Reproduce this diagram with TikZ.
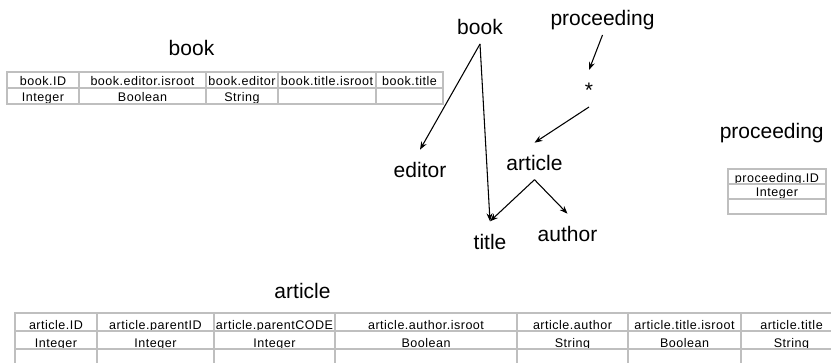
\documentclass[tikz,border=0pt]{standalone}
\usepackage{fontspec}
\setmainfont{Liberation Sans}
\newfontfamily\cellfont[LetterSpace=4]{Liberation Sans}
\usetikzlibrary{arrows.meta}
\tikzstyle{treelabel} = [inner sep=0pt, outer sep=3.75pt, text height=17.25pt, text depth=3pt, anchor=base, font=\fontsize{15.75}{18}\selectfont]
\tikzstyle{tablename} = [inner sep=0pt, anchor=base, font=\fontsize{15.75}{18}\selectfont]
\tikzstyle{cell} = [inner sep=0pt, anchor=base, font=\cellfont\fontsize{9.4}{10}\selectfont]
\tikzstyle{grid} = [draw=black!25, line width=1.2pt]
\tikzstyle{arrow} = [line width=0.8pt, -{Stealth[length=6pt, width=4.5pt]}]

\begin{document}
\begin{tikzpicture}[x=0.75pt, y=-0.75pt]
			\useasboundingbox (0,0) rectangle (831,363);
			
			% Pohon skema
			\node (t_book) [treelabel] at (480,35) {book};
			\node (t_proceeding) [treelabel] at (602.5,26) {proceeding};
			\node (t_star) [treelabel] at (589,98) {*};
			\node (t_article) [treelabel] at (534.5,170.7) {article};
			\node (t_editor) [treelabel] at (420,177.7) {editor};
			\node (t_title) [treelabel] at (490,249.3) {title};
			\node (t_author) [treelabel] at (567.5,241.7) {author};
			
			\draw [arrow] (t_book.south) -- (t_editor.north);
			\draw [arrow] (t_book.south) -- (t_title.north);
			\draw [arrow] (t_proceeding.south) -- (t_star.north);
			\draw [arrow] (t_star.south) -- (t_article.north);
			\draw [arrow] (t_article.south) -- (t_title.north);
			\draw [arrow] (t_article.south) -- (t_author.north);
			
			% Tabel book
			\node (book_name) [tablename] at (191.5,56) {book};
			\node (book_id) [cell] at (43,86) {book.ID};
			\node (book_editor_isroot) [cell] at (142.5,86) {book.editor.isroot};
			\node (book_editor) [cell] at (242,86) {book.editor};
			\node (book_title_isroot) [cell] at (327,86) {book.title.isroot};
			\node (book_title) [cell] at (409.5,86) {book.title};
			\node (book_id_type) [cell] at (43,102) {Integer};
			\node (book_editor_isroot_type) [cell] at (142.5,102) {Boolean};
			\node (book_editor_type) [cell] at (242,102) {String};
			\draw [grid] (7,72) rectangle (443,104);
			\draw [grid] (7,88) -- (443,88);
			\draw [grid] (79,72) -- (79,104) (206,72) -- (206,104) (278,72) -- (278,104) (376,72) -- (376,104);
			
			% Tabel proceeding
			\node (proceeding_name) [tablename] at (771.7,138.3) {proceeding};
			\node (proceeding_id) [cell] at (777,182.5) {proceeding.ID};
			\node (proceeding_id_type) [cell] at (777,197) {Integer};
			\draw [grid] (728,169) rectangle (826,214);
			\draw [grid] (728,184) -- (826,184) (728,199) -- (826,199);
			
			% Tabel article
			\node (article_name) [tablename] at (302.5,298) {article};
			\node (article_id) [cell] at (56,329) {article.ID};
			\node (article_parentid) [cell] at (155.5,329) {article.parentID};
			\node (article_parentcode) [cell] at (274.5,329) {article.parentCODE};
			\node (article_author_isroot) [cell] at (426,329) {article.author.isroot};
			\node (article_author) [cell] at (572.5,329) {article.author};
			\node (article_title_isroot) [cell] at (684.5,329) {article.title.isroot};
			\node (article_title) [cell] at (791.5,329) {article.title};
			\node (article_id_type) [cell] at (56,347) {Integer};
			\node (article_parentid_type) [cell] at (155.5,347) {Integer};
			\node (article_parentcode_type) [cell] at (274.5,347) {Integer};
			\node (article_author_isroot_type) [cell] at (426,347) {Boolean};
			\node (article_author_type) [cell] at (572.5,347) {String};
			\node (article_title_isroot_type) [cell] at (684.5,347) {Boolean};
			\node (article_title_type) [cell] at (791.5,347) {String};
			\draw [grid] (831,313) -- (15,313) -- (15,363);
			\draw [grid] (15,331) -- (831,331) (15,349) -- (831,349);
			\draw [grid] (97,313) -- (97,363) (214,313) -- (214,363) (335,313) -- (335,363) (517,313) -- (517,363) (628,313) -- (628,363) (741,313) -- (741,363);
			
		\end{tikzpicture}
\end{document}
